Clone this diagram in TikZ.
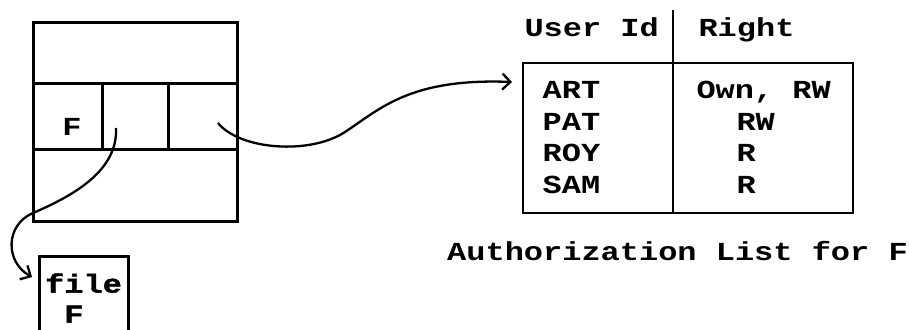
\documentclass[tikz,border=0pt]{standalone}
\usepackage{fontspec}
\newfontfamily\termfont[FakeStretch=1.23]{Liberation Mono}
\newfontfamily\heavyfont[FakeStretch=1.23,FakeBold=1.5]{Liberation Mono Bold}
\usetikzlibrary{arrows.meta,positioning}

\begin{document}
\begin{tikzpicture}[x=1pt,y=-1pt,>={Straight Barb[length=8pt,width=16pt]},
		line width=3pt,node distance=31.7pt,
		font=\termfont\bfseries\fontsize{26}{30}\selectfont]
		\tikzstyle{cell}=[draw,inner sep=0pt]
		\tikzstyle{word}=[inner sep=0pt]
		\tikzstyle{pointer}=[->,line width=2.3pt]
		\useasboundingbox (0,0) rectangle (909,329);
		
		% directory entry
		\node[cell,minimum width=204pt,minimum height=198pt] (dir) at (135,122) {};
		\node[cell,minimum width=69pt,minimum height=66pt]  (name) at (67.5,116) {};
		\node[cell,minimum width=66pt,minimum height=66pt]  (ptr) at (135,116) {};
		\node[cell,minimum width=69pt,minimum height=66pt]  (acl) at (202.5,116) {};
		\node[word] (fname) at (72,127) {F};
		
		% the file itself
		\node[cell,minimum width=89pt,minimum height=84pt,align=left,
			font=\heavyfont\fontsize{26}{30}\selectfont] (file) at (83.5,298) {file\\\phantom{f}F};
		
		% authorization list
		\node[cell,line width=2.6pt,minimum width=330pt,minimum height=150pt] (list) at (688,138) {};
		\coordinate (divtop) at (673,10);
		\draw[line width=2.4pt] (divtop) -- (divtop |- list.south);
		\node[word,anchor=base west] (uid) at (523,36.5) {User Id};
		\node[word,anchor=base west] (right) at (697,36.5) {Right};
		
		\node[word] (art) at (571.5,90) {ART};
		\node[word] (pat) [below of=art] {PAT};
		\node[word] (roy) [below of=pat] {ROY};
		\node[word] (sam) [below of=roy] {SAM};
		\node[word,anchor=base west] (rart) at (695,98.5) {Own, RW};
		\node[word,anchor=base west] (rpat) at (735,130.2) {RW};
		\node[word,anchor=base west] (rroy) at (735,161.9) {R};
		\node[word,anchor=base west] (rsam) at (735,193.6) {R};
		
		\node[word,anchor=base] (caption) at (677.5,260.5) {Authorization List for F};
		
		% pointers
		\coordinate (ptrout) at (116,128);
		\coordinate (aclout) at (218,123);
		\coordinate (filein) at (32,277);
		\coordinate (listin) at (512,82);
		\draw[pointer] (ptrout) .. controls (118,170) and (75,195) .. (33,213)
		.. controls (5,225) and (5,262) .. (filein);
		\draw[pointer] (aclout) .. controls (240,150) and (310,155) .. (345,132)
		.. controls (380,109) and (410,78) .. (listin);
	\end{tikzpicture}
\end{document}
